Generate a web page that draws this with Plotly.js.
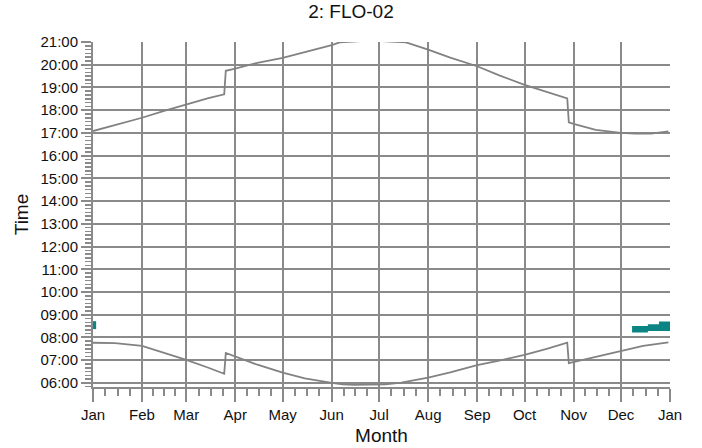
<!DOCTYPE html>
<html>
<head>
<meta charset="utf-8">
<script src="https://cdn.plot.ly/plotly-3.0.1.min.js"></script>
<style>html,body{margin:0;padding:0;background:#fff;}#chart{width:702px;height:448px;}</style>
</head>
<body>
<div id="chart"></div>
<script>
// ---- data ----
const sunsetDates = ['2023-01-01','2023-01-15','2023-02-01','2023-02-15','2023-03-01','2023-03-15','2023-03-25','2023-03-26','2023-04-01','2023-04-15','2023-05-01','2023-05-15','2023-06-01','2023-06-06','2023-06-12','2023-06-16','2023-06-26','2023-07-08','2023-07-12','2023-07-18','2023-08-01','2023-08-15','2023-09-01','2023-09-15','2023-10-01','2023-10-15','2023-10-28','2023-10-29','2023-11-01','2023-11-15','2023-12-01','2023-12-10','2023-12-20','2023-12-31'];
const sunsetTimes = ['17:05','17:20','17:40','17:58','18:16','18:32','18:42','19:44','19:50','20:05','20:18','20:33','20:52','20:59','21:00','21:01','21:04','21:01','21:00','20:59','20:40','20:19','19:56','19:32','19:07','18:48','18:31','17:28','17:24','17:08','17:00','16:58','16:58','17:04'];

const sunriseDates = ['2023-01-01','2023-01-15','2023-02-01','2023-02-15','2023-03-01','2023-03-15','2023-03-25','2023-03-26','2023-04-01','2023-04-15','2023-05-01','2023-05-15','2023-06-01','2023-06-08','2023-06-15','2023-07-01','2023-07-05','2023-07-15','2023-08-01','2023-08-15','2023-09-01','2023-09-15','2023-10-01','2023-10-15','2023-10-28','2023-10-29','2023-11-01','2023-11-15','2023-12-01','2023-12-15','2023-12-31'];
const sunriseTimes = ['07:46','07:45','07:38','07:20','07:01','06:40','06:24','07:19','07:10','06:48','06:27','06:12','06:00','05:56','05:55','05:55','05:56','06:01','06:14','06:28','06:47','06:59','07:14','07:30','07:46','06:52','06:55','07:10','07:26','07:38','07:47'];

// teal bands (start/end of shaded time window)
const bandJanDates = ['2023-01-01','2023-01-03'];
const bandJanLow   = ['08:22','08:22'];
const bandJanHigh  = ['08:43','08:43'];
const bandDecDates = ['2023-12-08','2023-12-18','2023-12-25','2024-01-01'];
const bandDecLow   = ['08:13','08:17','08:17','08:17'];
const bandDecHigh  = ['08:30','08:35','08:42','08:42'];

const hourTicks = [6,7,8,9,10,11,12,13,14,15,16,17,18,19,20,21];

// ---- helpers ----
const toH = s => { const p = s.split(':'); return +p[0] + (+p[1]) / 60; };
const pad = n => (n < 10 ? '0' : '') + n;

const gray = '#8a8a8a';
const lineGray = '#828282';
const teal = '#0b8583';

// minor x ticks at quarters of each month
const minorX = [];
for (let m = 0; m < 12; m++) {
  const a = Date.UTC(2023, m, 1), b = Date.UTC(2023, m + 1, 1);
  [0.25, 0.5, 0.75].forEach(f => {
    const d = new Date(a + (b - a) * f);
    minorX.push(d.getUTCFullYear() + '-' + pad(d.getUTCMonth() + 1) + '-' + pad(d.getUTCDate()) + ' ' + pad(d.getUTCHours()) + ':00');
  });
}

const traces = [
  {x: sunsetDates, y: sunsetTimes.map(toH), mode: 'lines', line: {color: lineGray, width: 1.8}, hoverinfo: 'skip'},
  {x: sunriseDates, y: sunriseTimes.map(toH), mode: 'lines', line: {color: lineGray, width: 1.8}, hoverinfo: 'skip'},
  {x: bandJanDates, y: bandJanLow.map(toH), mode: 'lines', line: {width: 0, color: teal}},
  {x: bandJanDates, y: bandJanHigh.map(toH), mode: 'lines', line: {width: 0, color: teal}, fill: 'tonexty', fillcolor: teal},
  {x: bandDecDates, y: bandDecLow.map(toH), mode: 'lines', line: {width: 0, color: teal, shape: 'hv'}},
  {x: bandDecDates, y: bandDecHigh.map(toH), mode: 'lines', line: {width: 0, color: teal, shape: 'hv'}, fill: 'tonexty', fillcolor: teal},
  {x: ['2023-01-01'], y: [13], xaxis: 'x2', mode: 'markers', marker: {opacity: 0}, hoverinfo: 'skip'}
];

const layout = {
  width: 702, height: 448,
  margin: {l: 93, r: 32, t: 42, b: 61, pad: 0},
  paper_bgcolor: '#fff', plot_bgcolor: '#fff',
  showlegend: false,
  font: {family: '"Liberation Sans", Arial, sans-serif', color: '#111', size: 15},
  title: {text: '2: FLO-02', xref: 'container', x: 0.5, xanchor: 'center', y: 0.99, yanchor: 'top', font: {size: 19, color: '#111'}},
  xaxis: {
    type: 'date', range: ['2023-01-01', '2024-01-01'],
    tickmode: 'linear', tick0: '2023-01-01', dtick: 'M1', tickformat: '%b',
    showgrid: true, gridcolor: gray, gridwidth: 2,
    ticks: 'outside', ticklen: 13, tickwidth: 2, tickcolor: gray,
    showline: true, linecolor: gray, linewidth: 2,
    zeroline: false,
    title: {text: 'Month', font: {size: 19}, standoff: 7},
    tickfont: {size: 15}
  },
  xaxis2: {
    type: 'date', range: ['2023-01-01', '2024-01-01'],
    overlaying: 'x', anchor: 'y', side: 'bottom',
    tickmode: 'array', tickvals: minorX, showticklabels: false,
    ticks: 'outside', ticklen: 8, tickwidth: 2, tickcolor: gray,
    showgrid: false, showline: false, zeroline: false
  },
  yaxis: {
    range: [5.82, 21.0],
    tickmode: 'array', tickvals: hourTicks, ticktext: hourTicks.map(h => pad(h) + ':00'),
    showgrid: true, gridcolor: gray, gridwidth: 2,
    ticks: 'outside', ticklen: 10, tickwidth: 2, tickcolor: gray,
    showline: true, linecolor: gray, linewidth: 2,
    zeroline: false,
    minor: {dtick: 1/6, tick0: 0, ticks: 'outside', ticklen: 6, tickwidth: 1.5, tickcolor: gray, showgrid: false},
    title: {text: 'Time', font: {size: 19}, standoff: 7},
    tickfont: {size: 15}
  }
};

Plotly.newPlot('chart', traces, layout, {displayModeBar: false, staticPlot: true});
</script>
</body>
</html>
